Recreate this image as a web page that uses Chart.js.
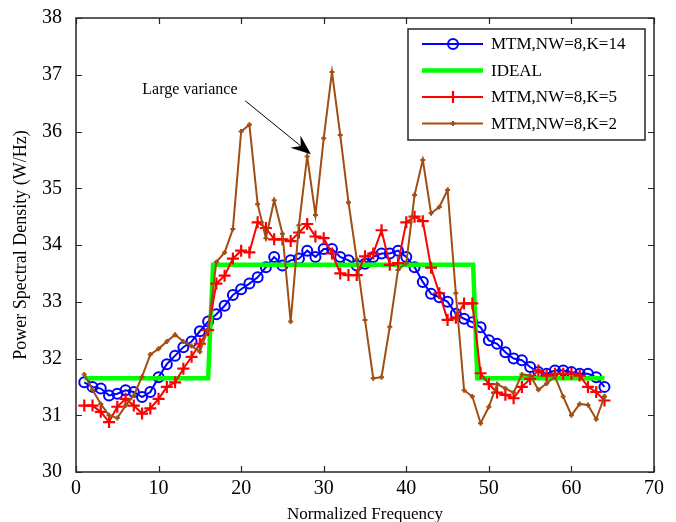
<!DOCTYPE html>
<html>
<head>
<meta charset="utf-8">
<script src="https://cdn.jsdelivr.net/npm/chart.js@4/dist/chart.umd.min.js"></script>
<style>
html,body{margin:0;padding:0;background:#fff;}
#wrap{width:676px;height:522px;}
</style>
</head>
<body>
<div id="wrap"><canvas id="c" width="676" height="522"></canvas></div>
<script>
// ---------- data ----------
const freq = [1,2,3,4,5,6,7,8,9,10,11,12,13,14,15,16,17,18,19,20,21,22,23,24,25,26,27,28,29,30,31,32,
              33,34,35,36,37,38,39,40,41,42,43,44,45,46,47,48,49,50,51,52,53,54,55,56,57,58,59,60,61,62,63,64];

const psdK14 = [31.58,31.50,31.47,31.35,31.38,31.44,31.41,31.32,31.41,31.67,31.90,32.05,32.20,32.30,32.48,32.65,
                32.78,32.93,33.12,33.22,33.32,33.43,33.61,33.79,33.64,33.73,33.76,33.90,33.79,33.93,33.93,33.79,
                33.73,33.64,33.67,33.79,33.85,33.85,33.90,33.79,33.61,33.35,33.14,33.08,33.00,32.79,32.70,32.64,
                32.55,32.32,32.26,32.11,32.00,31.97,31.85,31.76,31.73,31.79,31.79,31.76,31.73,31.73,31.67,31.50];

const psdK5 = [31.17,31.17,31.06,30.88,31.15,31.29,31.17,31.03,31.12,31.29,31.50,31.58,31.82,32.03,32.26,32.50,
               33.32,33.46,33.76,33.90,33.87,34.40,34.30,34.10,34.10,34.07,34.22,34.37,34.15,34.12,33.85,33.50,
               33.47,33.47,33.80,33.85,34.26,33.65,33.68,34.40,34.50,34.42,33.60,33.15,32.68,32.72,32.97,32.97,
               31.74,31.55,31.40,31.36,31.30,31.50,31.64,31.79,31.70,31.73,31.73,31.73,31.70,31.50,31.41,31.26];

const psdK2 = [31.72,31.45,31.20,31.00,30.95,31.17,31.35,31.68,32.07,32.17,32.30,32.42,32.30,32.22,32.12,32.52,
               33.70,33.87,34.28,36.00,36.12,34.72,34.12,34.79,34.20,32.65,34.35,35.56,34.53,35.88,37.05,35.94,
               34.75,33.75,32.68,31.65,31.67,32.56,33.56,33.68,34.88,35.50,34.56,34.67,34.97,33.15,31.44,31.33,
               30.86,31.15,31.55,31.47,31.40,31.72,31.70,31.45,31.56,31.68,31.33,31.00,31.20,31.18,30.93,31.33];

const idealFreq = [1, 16, 16.6, 48.1, 48.6, 64];
const idealPsd  = [31.65, 31.65, 33.65, 33.65, 31.65, 31.65];

const xTickValues = [0,10,20,30,40,50,60,70];
const yTickValues = [30,31,32,33,34,35,36,37,38];

const seriesNames = ['MTM,NW=8,K=14','IDEAL','MTM,NW=8,K=5','MTM,NW=8,K=2'];
const annotationText = 'Large variance';
const annotationTextAt = [13.8, 36.73];
const arrowFrom = [20.5, 36.54];
const arrowTo = [28.45, 35.6];

// ---------- styling ----------
const FONT = '"Liberation Serif", "Times New Roman", serif';
const BLUE = '#0000ff', GREEN = '#00ff00', RED = '#ff0000', BROWN = 'rgb(160,78,18)';

const toPts = (xs, ys) => xs.map((v, i) => ({x: v, y: ys[i]}));

const datasets = [
  {label: seriesNames[0], data: toPts(freq, psdK14), borderColor: BLUE, borderWidth: 2,
   pointStyle: 'circle', pointRadius: 5, pointBorderWidth: 2, pointBorderColor: BLUE,
   pointBackgroundColor: 'rgba(0,0,0,0)', order: 4},
  {label: seriesNames[1], data: toPts(idealFreq, idealPsd), borderColor: GREEN, borderWidth: 4.5,
   pointRadius: 0, order: 3},
  {label: seriesNames[2], data: toPts(freq, psdK5), borderColor: RED, borderWidth: 2,
   pointStyle: 'cross', pointRadius: 6, pointBorderWidth: 2.2, pointBorderColor: RED, order: 2},
  {label: seriesNames[3], data: toPts(freq, psdK2), borderColor: BROWN, borderWidth: 2,
   pointStyle: 'cross', pointRadius: 2.5, pointBorderWidth: 2, pointBorderColor: BROWN, order: 1}
];

function drawMarker(ctx, style, x, y, r, color, lw) {
  ctx.save();
  ctx.strokeStyle = color; ctx.lineWidth = lw;
  ctx.beginPath();
  if (style === 'circle') {
    ctx.arc(x, y, r, 0, Math.PI * 2);
  } else if (style === 'cross') {
    ctx.moveTo(x - r, y); ctx.lineTo(x + r, y);
    ctx.moveTo(x, y - r); ctx.lineTo(x, y + r);
  }
  ctx.stroke();
  ctx.restore();
}

const decorPlugin = {
  id: 'decor',
  afterDraw(chart) {
    const {ctx, chartArea: a, scales: {x, y}} = chart;
    ctx.save();
    // axes box
    ctx.strokeStyle = '#262626';
    ctx.lineWidth = 1.5;
    ctx.strokeRect(a.left, a.top, a.right - a.left, a.bottom - a.top);
    // inward ticks on all sides
    const tl = 6;
    ctx.beginPath();
    xTickValues.forEach(v => {
      const px = Math.round(x.getPixelForValue(v)) + 0.5;
      ctx.moveTo(px, a.bottom); ctx.lineTo(px, a.bottom - tl);
      ctx.moveTo(px, a.top); ctx.lineTo(px, a.top + tl);
    });
    yTickValues.forEach(v => {
      const py = Math.round(y.getPixelForValue(v)) + 0.5;
      ctx.moveTo(a.left, py); ctx.lineTo(a.left + tl, py);
      ctx.moveTo(a.right, py); ctx.lineTo(a.right - tl, py);
    });
    ctx.lineWidth = 1.2;
    ctx.stroke();

    // annotation text + arrow
    ctx.fillStyle = '#000';
    ctx.font = '16px ' + FONT;
    ctx.textAlign = 'center';
    ctx.textBaseline = 'middle';
    ctx.fillText(annotationText, x.getPixelForValue(annotationTextAt[0]), y.getPixelForValue(annotationTextAt[1]));
    const x0 = x.getPixelForValue(arrowFrom[0]), y0 = y.getPixelForValue(arrowFrom[1]);
    const x1 = x.getPixelForValue(arrowTo[0]), y1 = y.getPixelForValue(arrowTo[1]);
    const ang = Math.atan2(y1 - y0, x1 - x0);
    const hl = 20, hw = 8, notch = 13;
    const bx = x1 - hl * Math.cos(ang), by = y1 - hl * Math.sin(ang);
    const nx = x1 - notch * Math.cos(ang), ny = y1 - notch * Math.sin(ang);
    ctx.strokeStyle = '#000'; ctx.lineWidth = 1;
    ctx.beginPath(); ctx.moveTo(x0, y0); ctx.lineTo(nx, ny); ctx.stroke();
    ctx.beginPath();
    ctx.moveTo(x1, y1);
    ctx.lineTo(bx + hw * Math.sin(ang), by - hw * Math.cos(ang));
    ctx.lineTo(nx, ny);
    ctx.lineTo(bx - hw * Math.sin(ang), by + hw * Math.cos(ang));
    ctx.closePath();
    ctx.fill();

    // legend box
    const lw = 237, lh = 111;
    const lx = a.right - 246, ly = a.top + 11;
    ctx.fillStyle = '#fff';
    ctx.fillRect(lx, ly, lw, lh);
    ctx.strokeStyle = '#262626'; ctx.lineWidth = 1.5;
    ctx.strokeRect(lx, ly, lw, lh);
    const rows = [15, 41.5, 68, 94.5];
    ctx.font = '17px ' + FONT;
    ctx.textAlign = 'left';
    ctx.textBaseline = 'middle';
    datasets.forEach((ds, i) => {
      const ry = ly + rows[i];
      ctx.strokeStyle = ds.borderColor;
      ctx.lineWidth = ds.borderWidth;
      ctx.beginPath(); ctx.moveTo(lx + 14, ry); ctx.lineTo(lx + 75, ry); ctx.stroke();
      if (ds.pointRadius > 0) {
        drawMarker(ctx, ds.pointStyle, lx + 45, ry, ds.pointRadius, ds.pointBorderColor, ds.pointBorderWidth);
      }
      ctx.fillStyle = '#000';
      ctx.fillText(ds.label, lx + 83, ry + 1);
    });
    ctx.restore();
  }
};

new Chart(document.getElementById('c'), {
  type: 'line',
  data: {datasets},
  options: {
    responsive: false,
    animation: false,
    devicePixelRatio: 1,
    layout: {padding: {left: 0, right: 22, top: 18, bottom: 0}},
    elements: {line: {tension: 0}},
    plugins: {legend: {display: false}, tooltip: {enabled: false}},
    scales: {
      x: {
        type: 'linear', min: 0, max: 70,
        afterBuildTicks: s => { s.ticks = xTickValues.map(v => ({value: v})); },
        grid: {display: false, drawTicks: false},
        border: {display: false},
        ticks: {font: {family: FONT, size: 20}, color: '#000', padding: 5, maxRotation: 0, autoSkip: false},
        title: {display: true, text: 'Normalized Frequency', color: '#000',
                font: {family: FONT, size: 17}, padding: {top: 0, bottom: -3}},
        afterFit: s => { s.height = 50; s.paddingLeft = 0; s.paddingRight = 0; }
      },
      y: {
        type: 'linear', min: 30, max: 38,
        afterBuildTicks: s => { s.ticks = yTickValues.map(v => ({value: v})); },
        grid: {display: false, drawTicks: false},
        border: {display: false},
        ticks: {font: {family: FONT, size: 20}, color: '#000', padding: 14, autoSkip: false},
        title: {display: true, text: 'Power Spectral Density (W/Hz)', color: '#000',
                font: {family: FONT, size: 18}, padding: {top: 10, bottom: 0}},
        afterFit: s => { s.width = 76; s.paddingTop = 0; s.paddingBottom = 0; }
      }
    }
  },
  plugins: [decorPlugin]
});
</script>
</body>
</html>
